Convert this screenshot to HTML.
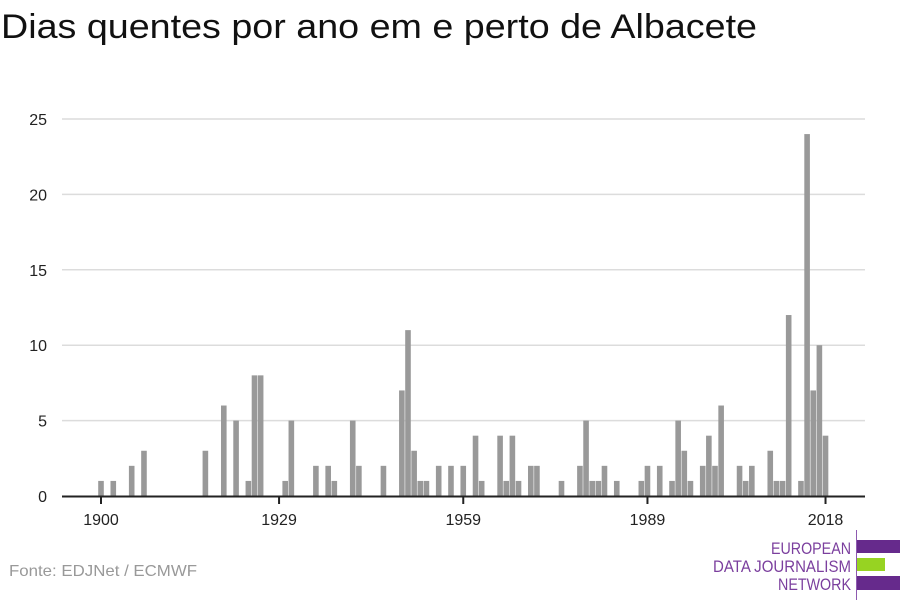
<!DOCTYPE html>
<html><head><meta charset="utf-8"><style>
body{margin:0;background:#fff;}
svg{display:block;font-family:"Liberation Sans","DejaVu Sans",sans-serif;}
</style></head><body>
<svg id="c" width="900" height="600" viewBox="0 0 900 600">
<text x="1" y="38" font-size="34" fill="#111" textLength="756" lengthAdjust="spacingAndGlyphs">Dias quentes por ano em e perto de Albacete</text>
<g id="grid"></g><g id="bars"></g><g id="axes"></g>
<text x="9" y="576" font-size="16" fill="#999" textLength="188" lengthAdjust="spacingAndGlyphs">Fonte: EDJNet / ECMWF</text>
<g>
<line x1="856.5" y1="530" x2="856.5" y2="600" stroke="#8e5ab0" stroke-width="1"/>
<rect x="857" y="540" width="43" height="13" fill="#662a8c"/>
<rect x="857" y="558" width="28" height="13" fill="#97d322"/>
<rect x="857" y="576" width="43" height="14" fill="#662a8c"/>
<g fill="#7b3f9e" font-size="17" text-anchor="end">
<text x="851" y="554" textLength="80" lengthAdjust="spacingAndGlyphs">EUROPEAN</text>
<text x="851" y="572" textLength="138" lengthAdjust="spacingAndGlyphs">DATA JOURNALISM</text>
<text x="851" y="590" textLength="73" lengthAdjust="spacingAndGlyphs">NETWORK</text>
</g></g>
</svg>
<script>
const years=[1900,1902,1905,1907,1917,1920,1922,1924,1925,1926,1930,1931,1935,1937,1938,1941,1942,1946,1949,1950,1951,1952,1953,1955,1957,1959,1961,1962,1965,1966,1967,1968,1970,1971,1975,1978,1979,1980,1981,1982,1984,1988,1989,1991,1993,1994,1995,1996,1998,1999,2000,2001,2004,2005,2006,2009,2010,2011,2012,2014,2015,2016,2017,2018];
const values=[1,1,2,3,3,6,5,1,8,8,1,5,2,2,1,5,2,2,7,11,3,1,1,2,2,2,4,1,4,1,4,1,2,2,1,2,5,1,1,2,1,1,2,2,1,5,3,1,2,4,2,6,2,1,2,3,1,1,12,1,24,7,10,4];
const yTicks=[0,5,10,15,20,25];
const xTicks=[1900,1929,1959,1989,2018];
const NS="http://www.w3.org/2000/svg";
function X(y){return 101+(y-1900)*6.14;}
function Y(v){return 496-v*15.08;}
function mk(t,a,p){const e=document.createElementNS(NS,t);for(const k in a)e.setAttribute(k,a[k]);p.appendChild(e);return e;}
const grid=document.getElementById('grid'),bars=document.getElementById('bars'),axes=document.getElementById('axes');
yTicks.forEach(v=>{
 if(v>0){const l=mk('line',{x1:62,x2:865,y1:Y(v),y2:Y(v),stroke:'#dcdcdc','stroke-width':1.5},grid);
 
 }
 const t=mk('text',{x:47,y:Y(v)+6,'font-size':16,'text-anchor':'end',fill:'#222'},axes);t.textContent=v;
 
 
});
years.forEach((yr,i)=>{
 const r=mk('rect',{x:X(yr)-2.8,y:Y(values[i]),width:5.6,height:496-Y(values[i]),fill:'#999'},bars);
 
 
});
const ax=mk('line',{x1:62,x2:865,y1:496.5,y2:496.5,stroke:'#222','stroke-width':2},axes);


xTicks.forEach(yr=>{
 const tk=mk('line',{x1:X(yr),x2:X(yr),y1:496,y2:504,stroke:'#222','stroke-width':2},axes);
 
 
 const t=mk('text',{x:X(yr),y:525,'font-size':16,'text-anchor':'middle',fill:'#222'},axes);t.textContent=yr;
 
 
});
</script>
</body></html>
